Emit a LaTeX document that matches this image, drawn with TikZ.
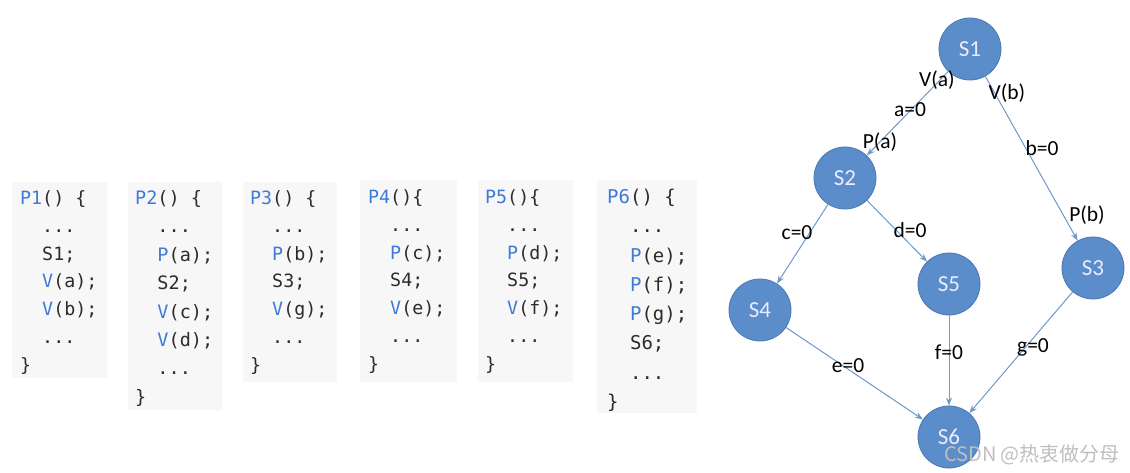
\documentclass[tikz,border=0pt]{standalone}
\usepackage{fontspec}
\setmainfont{Carlito}
\setmonofont{DejaVu Sans Mono}
\newfontfamily\cjk{Noto Sans CJK SC}
\usetikzlibrary{arrows.meta}
\definecolor{kwcol}{HTML}{3F7BD6}
\definecolor{codetxt}{HTML}{2C2C2C}
\definecolor{codebgcol}{HTML}{F7F7F7}
\definecolor{nodefill}{HTML}{5B8DCB}
\definecolor{nodeline}{HTML}{4A78B0}
\definecolor{edgecol}{HTML}{7098C8}
\newcommand\kw[1]{\textcolor{kwcol}{#1}}
\newcommand\ind{\hphantom{xx}}
\newcommand\codelines[1]{\begin{tabular}[t]{@{}l@{}}#1\end{tabular}}
\tikzset{
  codebg/.style={fill=codebgcol},
  code/.style 2 args={anchor=base west, inner sep=0pt, text=codetxt,
    font=\ttfamily\fontsize{#1}{#2}\selectfont},
  state/.style={circle, fill=nodefill, draw=nodeline, line width=0.8pt,
    minimum size=62pt, inner sep=0pt, text=white!92!blue,
    font=\fontsize{23}{27}\selectfont},
  edge/.style={draw=edgecol, line width=1pt, -{Stealth[length=8pt,width=6pt]}},
  lbl/.style={inner sep=0pt, text=black, font=\fontsize{21.5}{25}\selectfont}
}
\begin{document}
\begin{tikzpicture}[x=1pt,y=-1pt]
\useasboundingbox (0,0) rectangle (1130,473);
\fill[white] (0,0) rectangle (1130,473);
% code boxes
\path[codebg] (12,182) rectangle (107,378);
\path[codebg] (128,182) rectangle (222,410);
\path[codebg] (243,182) rectangle (337,382);
\path[codebg] (360,180) rectangle (457,382);
\path[codebg] (478,180) rectangle (573,382);
\path[codebg] (597,180) rectangle (697,413);
% code text
\node[code={18.3}{27.8}] (p1) at (20,204.5) {\codelines{\kw{P1}() \{\\ \ind...\\ \ind S1;\\ \ind\kw{V}(a);\\ \ind\kw{V}(b);\\ \ind...\\ \}}};
\node[code={18.5}{28.4}] (p2) at (135,204.5) {\codelines{\kw{P2}() \{\\ \ind...\\ \ind\kw{P}(a);\\ \ind S2;\\ \ind\kw{V}(c);\\ \ind\kw{V}(d);\\ \ind...\\ \}}};
\node[code={18.3}{27.8}] (p3) at (250,204.5) {\codelines{\kw{P3}() \{\\ \ind...\\ \ind\kw{P}(b);\\ \ind S3;\\ \ind\kw{V}(g);\\ \ind...\\ \}}};
\node[code={18.3}{27.8}] (p4) at (368,203.5) {\codelines{\kw{P4}()\{\\ \ind...\\ \ind\kw{P}(c);\\ \ind S4;\\ \ind\kw{V}(e);\\ \ind...\\ \}}};
\node[code={18.3}{27.8}] (p5) at (485,203.5) {\codelines{\kw{P5}()\{\\ \ind...\\ \ind\kw{P}(d);\\ \ind S5;\\ \ind\kw{V}(f);\\ \ind...\\ \}}};
\node[code={19}{29.3}] (p6) at (607,203.5) {\codelines{\kw{P6}() \{\\ \ind...\\ \ind\kw{P}(e);\\ \ind\kw{P}(f);\\ \ind\kw{P}(g);\\ \ind S6;\\ \ind...\\ \}}};
% graph
\node[state] (s1) at (970,49) {S1};
\node[state] (s2) at (845,178) {S2};
\node[state] (s3) at (1093,268) {S3};
\node[state] (s4) at (760,310) {S4};
\node[state] (s5) at (949,284) {S5};
\node[state] (s6) at (949,437) {S6};
\draw[edge] (s1) -- (s2);
\draw[edge] (s1) -- (s3);
\draw[edge] (s2) -- (s4);
\draw[edge] (s2) -- (s5);
\draw[edge] (s4) -- (s6);
\draw[edge] (s5) -- (s6);
\draw[edge] (s3) -- (s6);
% labels
\node[lbl] (la1) at (937,80) {V(a)};
\node[lbl] (la2) at (910,110) {a=0};
\node[lbl] (la3) at (880,142) {P(a)};
\node[lbl] (lb1) at (1007,93) {V(b)};
\node[lbl] (lb2) at (1042,148) {b=0};
\node[lbl] (lb3) at (1087,215) {P(b)};
\node[lbl] (lc) at (797,233) {c=0};
\node[lbl] (ld) at (910,230) {d=0};
\node[lbl] (le) at (848,366) {e=0};
\node[lbl] (lf) at (949,352) {f=0};
\node[lbl] (lg) at (1033,347) {g=0};
% watermark
\node[inner sep=0pt, text=gray!50, font=\cjk\fontsize{20}{24}\selectfont] (wm) at (1032,455) {CSDN @热衷做分母};
\end{tikzpicture}
\end{document}
